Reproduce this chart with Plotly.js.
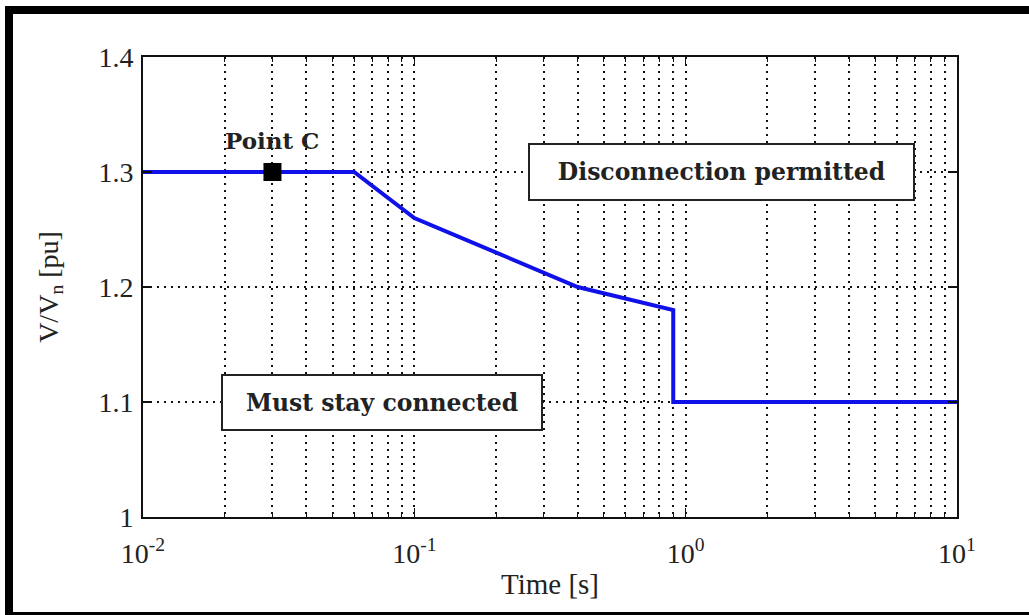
<!DOCTYPE html>
<html>
<head>
<meta charset="utf-8">
<script src="https://cdn.plot.ly/plotly-3.0.1.min.js"></script>
<style>
  html, body { margin: 0; padding: 0; background: #fff; }
  #wrap { position: relative; width: 1029px; height: 615px; overflow: hidden; }
  #chart { position: absolute; left: 0; top: 0; width: 1029px; height: 615px; }
  .bar { position: absolute; background: #000; }
</style>
</head>
<body>
<div id="wrap">
  <div id="chart"></div>
  <div class="bar" style="left:5px; top:6px; width:1024px; height:8px;"></div>
  <div class="bar" style="left:5px; top:6px; width:8px; height:609px;"></div>
  <div class="bar" style="left:5px; top:612px; width:1024px; height:3px;"></div>
</div>
<script>
// Curve: time [s] vs V/Vn [pu]
const timeS = [0.01, 0.06, 0.1, 0.4, 0.9, 0.9, 10];
const voltPu = [1.3, 1.3, 1.26, 1.2, 1.18, 1.1, 1.1];

// Point C
const pointCTime = [0.03];
const pointCVolt = [1.3];
const pointCLabel = 'Point C';

// Region labels
const regionLabels = ['Disconnection permitted', 'Must stay connected'];

// Axis ticks
const xTickVals = [0.01, 0.1, 1, 10];
const xTickText = ['10<sup>-2</sup>', '10<sup>-1</sup>', '10<sup>0</sup>', '10<sup>1</sup>'];
const xMinorVals = [0.02,0.03,0.04,0.05,0.06,0.07,0.08,0.09,
                    0.2,0.3,0.4,0.5,0.6,0.7,0.8,0.9,
                    2,3,4,5,6,7,8,9];
const yTickVals = [1, 1.1, 1.2, 1.3, 1.4];
const yTickText = ['1', '1.1', '1.2', '1.3', '1.4'];

const serif = 'Liberation Serif, Times New Roman, serif';
const labelSerif = 'DejaVu Serif, serif';
const gridDash = '2px,5px';

const traces = [
  {
    x: timeS, y: voltPu, type: 'scatter', mode: 'lines',
    line: { color: '#1010e8', width: 4 },
    hoverinfo: 'skip', showlegend: false
  },
  {
    x: pointCTime, y: pointCVolt, type: 'scatter', mode: 'markers',
    marker: { symbol: 'square', size: 18, color: '#000' },
    hoverinfo: 'skip', showlegend: false
  }
];

const layout = {
  width: 1029, height: 615,
  margin: { l: 143, r: 72, t: 57, b: 98 },
  paper_bgcolor: '#fff', plot_bgcolor: '#fff',
  showlegend: false,
  font: { family: serif, color: '#222', size: 24 },
  xaxis: {
    type: 'log', range: [-2, 1],
    tickmode: 'array', tickvals: xTickVals, ticktext: xTickText,
    ticks: 'inside', ticklen: 9, tickwidth: 1.5, tickcolor: '#111',
    showline: true, linecolor: '#111', linewidth: 2, mirror: 'ticks',
    showgrid: true, gridcolor: '#111', gridwidth: 2, griddash: gridDash,
    zeroline: false,
    ticklabelstandoff: 10,
    tickfont: { family: serif, size: 28, color: '#222' },
    minor: {
      tickmode: 'array', tickvals: xMinorVals,
      ticks: 'inside', ticklen: 5, tickwidth: 1, tickcolor: '#111',
      showgrid: true, gridcolor: '#111', gridwidth: 2, griddash: gridDash
    },
    title: { text: 'Time [s]', font: { family: serif, size: 29, color: '#222' }, standoff: 6 }
  },
  yaxis: {
    range: [1, 1.4],
    tickmode: 'array', tickvals: yTickVals, ticktext: yTickText,
    ticks: 'inside', ticklen: 9, tickwidth: 1.5, tickcolor: '#111',
    showline: true, linecolor: '#111', linewidth: 2, mirror: 'ticks',
    showgrid: true, gridcolor: '#111', gridwidth: 2, griddash: gridDash,
    zeroline: false,
    ticklabelstandoff: 2,
    tickfont: { family: serif, size: 28, color: '#222' },
    title: { text: 'V/V<sub>n</sub> [pu]', font: { family: serif, size: 28, color: '#222' }, standoff: 32 }
  },
  annotations: [
    {
      x: Math.log10(pointCTime[0]), y: pointCVolt[0], xref: 'x', yref: 'y',
      text: '<b>' + pointCLabel + '</b>', showarrow: false,
      yanchor: 'bottom', yshift: 16,
      font: { family: labelSerif, size: 23, color: '#222' }
    },
    {
      x: 0.132, y: 1.3, xref: 'x', yref: 'y',
      text: '<b>' + regionLabels[0] + '</b>', showarrow: false,
      width: 383, height: 54, borderpad: 0, borderwidth: 2,
      bordercolor: '#222', bgcolor: '#fff',
      font: { family: labelSerif, size: 23.5, color: '#222' }
    },
    {
      x: -1.119, y: 1.1, xref: 'x', yref: 'y',
      text: '<b>' + regionLabels[1] + '</b>', showarrow: false,
      width: 318, height: 53, borderpad: 0, borderwidth: 2,
      bordercolor: '#222', bgcolor: '#fff',
      font: { family: labelSerif, size: 23.5, color: '#222' }
    }
  ]
};

Plotly.newPlot('chart', traces, layout, { displayModeBar: false, staticPlot: true });
</script>
</body>
</html>
